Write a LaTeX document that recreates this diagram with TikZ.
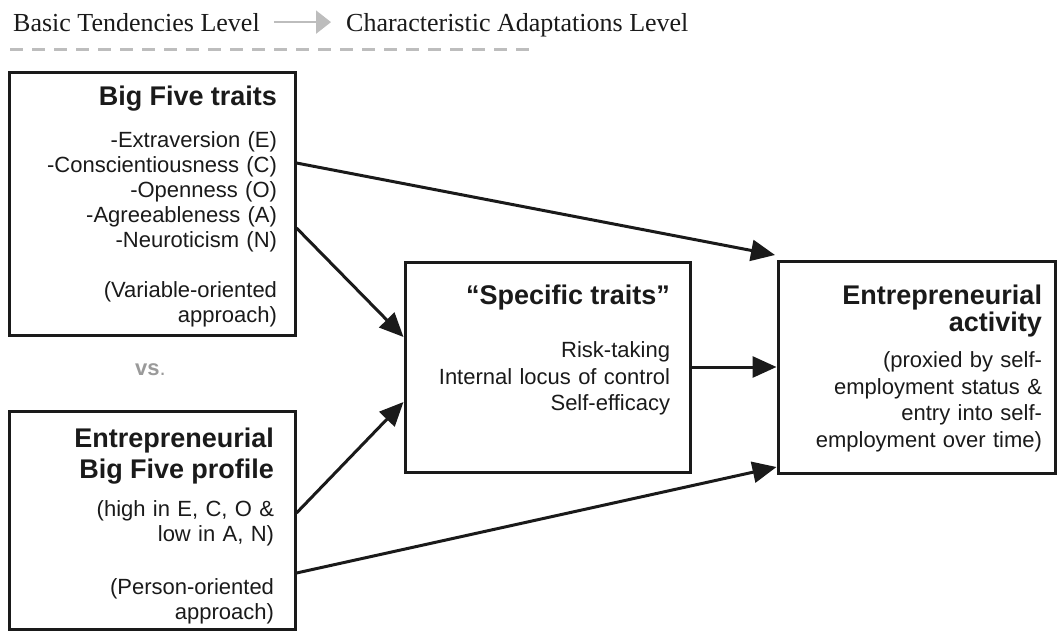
\documentclass[tikz,border=0pt]{standalone}
\usepackage{fontspec}
\setmainfont{Liberation Sans}
\newfontfamily\levelfont{Liberation Serif}
\usetikzlibrary{arrows.meta,positioning}
\definecolor{levelgray}{HTML}{BDBDBD}
\definecolor{vsgray}{HTML}{9A9A9A}
\definecolor{ink}{HTML}{1A1A1A}
\newcommand{\boxtitle}[1]{{\fontsize{27}{25}\selectfont\bfseries #1}}

\begin{document}
\begin{tikzpicture}[
    x=1pt, y=-1pt,
    every node/.style={text=ink},
    box/.style={draw=ink, line width=3pt, align=right, inner ysep=0pt, font=\fontsize{22}{25}\selectfont},
    widebox/.style={box, font=\fontsize{22}{26.5}\selectfont},
    level/.style={inner sep=0pt, anchor=base west, font=\levelfont\fontsize{26}{30}\selectfont},
    flow/.style={-{Triangle[length=24pt,width=21pt]}, line width=3pt, draw=ink},
    levelflow/.style={-{Triangle[length=15pt,width=23pt]}, line width=2.2pt, draw=levelgray},
    divider/.style={draw=levelgray, line width=3pt, dash pattern=on 13pt off 9pt}
]
\useasboundingbox (0,0) rectangle (1060,632);

% header
\node[level] (basic) at (13,31) {Basic Tendencies Level};
\node[level] (adapt) at (346,31) {Characteristic Adaptations Level};
\draw[levelflow, shorten <=14pt, shorten >=15pt] (basic.east) -- (basic.east -| adapt.west);
\draw[divider] (10,49) -- (532,49);

% boxes
\node[box, text width=250pt, inner xsep=18pt, minimum height=263pt, text depth=216.5pt] (bigfive) at (152,203.5)
  {\boxtitle{Big Five traits}\\[17pt]
   -Extraversion (E)\\ -Conscientiousness (C)\\ -Openness (O)\\ -Agreeableness (A)\\ -Neuroticism (N)\\[25pt]
   (Variable-oriented\\ approach)};
\node[box, text width=244pt, inner xsep=21pt, minimum height=218pt, text depth=165.5pt, below=73pt of bigfive] (profile)
  {\boxtitle{Entrepreneurial}\\[5pt]\boxtitle{Big Five profile}\\[13pt]
   (high in E, C, O \&\\ low in A, N)\\[28pt]
   (Person-oriented\\ approach)};
\node[text=vsgray, anchor=base west, inner sep=0pt, font=\fontsize{22}{25}\selectfont] (versus) at (135,375) {\textbf{vs}.};
\node[widebox, text width=245pt, inner xsep=20pt, minimum height=210pt, text depth=144pt] (specific) at (547.5,367)
  {\boxtitle{``Specific traits''}\\[26.5pt]
   Risk-taking\\ Internal locus of control\\ Self-efficacy};
\node[widebox, text width=251pt, inner xsep=13pt, minimum height=212pt, text depth=144pt, right=85pt of specific] (activity)
  {\boxtitle{Entrepreneurial}\\[0.5pt]\boxtitle{activity}\\[9.5pt]
   (proxied by self-\\ employment status \&\\ entry into self-\\ employment over time)};

% arrows
\draw[flow] ([yshift=40.5pt]bigfive.east) -- ([xshift=-1.5pt,yshift=4.5pt]activity.north west);
\draw[flow] ([yshift=-24.5pt]bigfive.east) -- ([yshift=30pt]specific.west);
\draw[flow] ([yshift=7pt]profile.east) -- ([yshift=-35pt]specific.west);
\draw[flow] ([yshift=-53pt]profile.east) -- ([yshift=-100pt]activity.west);
\draw[flow] (specific) -- (activity);
\end{tikzpicture}
\end{document}
